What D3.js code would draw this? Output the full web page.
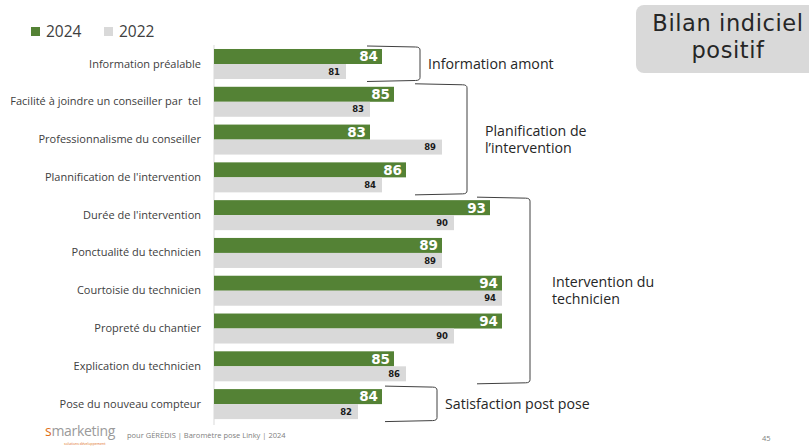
<!DOCTYPE html>
<html><head><meta charset="utf-8">
<script src="https://cdn.jsdelivr.net/npm/d3@7"></script>
<style>
html,body{margin:0;padding:0;background:#fff;}
svg{display:block;}
</style></head>
<body>
<svg id="chart" width="809" height="446"></svg>
<script>
const categories = [
  "Information préalable",
  "Facilité à joindre un conseiller par  tel",
  "Professionnalisme du conseiller",
  "Plannification de l'intervention",
  "Durée de l'intervention",
  "Ponctualité du technicien",
  "Courtoisie du technicien",
  "Propreté du chantier",
  "Explication du technicien",
  "Pose du nouveau compteur"
];
const series = ["2024", "2022"];
const values2024 = [84, 85, 83, 86, 93, 89, 94, 94, 85, 84];
const values2022 = [81, 83, 89, 84, 90, 89, 94, 90, 86, 82];
const groupLabels = [["Information amont"], ["Planification de", "l\u2019intervention"], ["Intervention du", "technicien"], ["Satisfaction post pose"]];
const groupFirst = [0, 1, 4, 9];
const groupLast = [0, 3, 8, 9];

const colors = {"2024": "#548235", "2022": "#d9d9d9"};
const svg = d3.select("#chart");
const FONT = "'Open Sans', sans-serif";

const x = d3.scaleLinear().domain([70, 100]).range([214, 574]);
const y = d3.scaleBand().domain(categories).range([45.1, 423]).paddingInner(0.206).paddingOuter(0.103);
const ys = d3.scaleBand().domain(series).range([0, y.bandwidth()]);

const data = categories.map((c, i) => ({cat: c, v: {"2024": values2024[i], "2022": values2022[i]}}));

// axis line
svg.append("line").attr("x1", x(70)).attr("x2", x(70)).attr("y1", 45).attr("y2", 425)
  .attr("stroke", "#d9d9d9").attr("stroke-width", 1);

// category labels via axis
const yAxis = d3.axisLeft(y).tickSize(0).tickPadding(13);
const ag = svg.append("g").attr("transform", `translate(${x(70)},0)`).call(yAxis);
ag.select(".domain").remove();
ag.selectAll("text").attr("font-family", FONT).attr("font-size", 11).attr("fill", "#404040")
  .style("white-space", "pre");

// bars
const g = svg.selectAll("g.cat").data(data).join("g").attr("class", "cat")
  .attr("transform", d => `translate(0,${y(d.cat)})`);
g.selectAll("rect").data(d => series.map(s => ({s, v: d.v[s]}))).join("rect")
  .attr("x", x(70)).attr("y", d => ys(d.s)).attr("height", ys.bandwidth())
  .attr("width", d => x(d.v) - x(70)).attr("fill", d => colors[d.s]);
g.selectAll("text.val").data(d => series.map(s => ({s, v: d.v[s]}))).join("text").attr("class", "val")
  .attr("x", d => x(d.v) - (d.s === "2024" ? 4 : 6))
  .attr("y", d => ys(d.s) + ys.bandwidth() / 2)
  .attr("dy", "0.36em").attr("text-anchor", "end")
  .attr("font-family", "'DejaVu Sans', sans-serif").attr("font-weight", "bold")
  .attr("font-size", d => d.s === "2024" ? 13.5 : 8.5)
  .attr("fill", d => d.s === "2024" ? "#ffffff" : "#1a1a1a")
  .text(d => d.v);

// legend
const lg = svg.append("g").attr("transform", "translate(31,24)");
series.forEach((s, i) => {
  const gx = i * 73;
  lg.append("rect").attr("x", gx).attr("y", 3).attr("width", 9).attr("height", 9).attr("fill", colors[s]);
  lg.append("text").attr("x", gx + 15).attr("y", 13).attr("font-family", FONT).attr("font-size", 15.5)
    .attr("fill", "#404040").text(s);
});

// brackets
const bx0 = [367, 415, 477, 385];
const bx1 = [420, 467, 530, 437];
const lx = [428, 485, 552, 445];
groupLabels.forEach((lab, i) => {
  const top = y(categories[groupFirst[i]]) - 3;
  const bot = y(categories[groupLast[i]]) + y.bandwidth() + 2.5;
  const r = 3, a = bx0[i], b = bx1[i];
  const p = d3.path();
  p.moveTo(a, top);
  p.lineTo(b - r * 1.5, top + 1);
  p.quadraticCurveTo(b, top + 1, b, top + r + 1);
  p.lineTo(b, bot - r - 1);
  p.quadraticCurveTo(b, bot - 1, b - r * 1.5, bot - 1);
  p.lineTo(a, bot);
  svg.append("path").attr("d", p.toString()).attr("fill", "none").attr("stroke", "#404040").attr("stroke-width", 1);
  const mid = (top + bot) / 2;
  const lh = 17.5;
  const t = svg.append("text").attr("font-family", FONT).attr("font-size", 14.2).attr("fill", "#262626");
  lab.forEach((line, k) => {
    t.append("tspan").attr("x", lx[i]).attr("y", mid + 5 + (k - (lab.length - 1) / 2) * lh).text(line);
  });
});

// top-right box
svg.append("rect").attr("x", 636).attr("y", 5).attr("width", 190).attr("height", 68).attr("rx", 8)
  .attr("fill", "#d9d9d9");
const bt = svg.append("text").attr("font-family", "'DejaVu Sans', sans-serif").attr("font-size", 22.5)
  .attr("letter-spacing", "0.6").attr("fill", "#262626").attr("text-anchor", "middle");
bt.append("tspan").attr("x", 728).attr("y", 31).text("Bilan indiciel");
bt.append("tspan").attr("x", 728).attr("y", 58).text("positif");

// footer
const ft = svg.append("text").attr("x", 45).attr("y", 436).attr("font-family", FONT).attr("font-size", 14).attr("fill", "#9a9a9a").attr("letter-spacing", "-0.3");
ft.append("tspan").attr("fill", "#e07020").text("s");
ft.append("tspan").text("marketing");
svg.append("text").attr("x", 64).attr("y", 445).attr("font-family", FONT).attr("font-size", 3.5).attr("fill", "#e07020").text("solutions développement");
svg.append("text").attr("x", 127).attr("y", 438).attr("font-family", FONT).attr("font-size", 7.5).attr("fill", "#808080")
  .text("pour GÉRÉDIS | Baromètre pose Linky | 2024");
svg.append("text").attr("x", 762).attr("y", 441).attr("font-family", FONT).attr("font-size", 7.5).attr("fill", "#808080").text("45");
</script>
</body></html>
